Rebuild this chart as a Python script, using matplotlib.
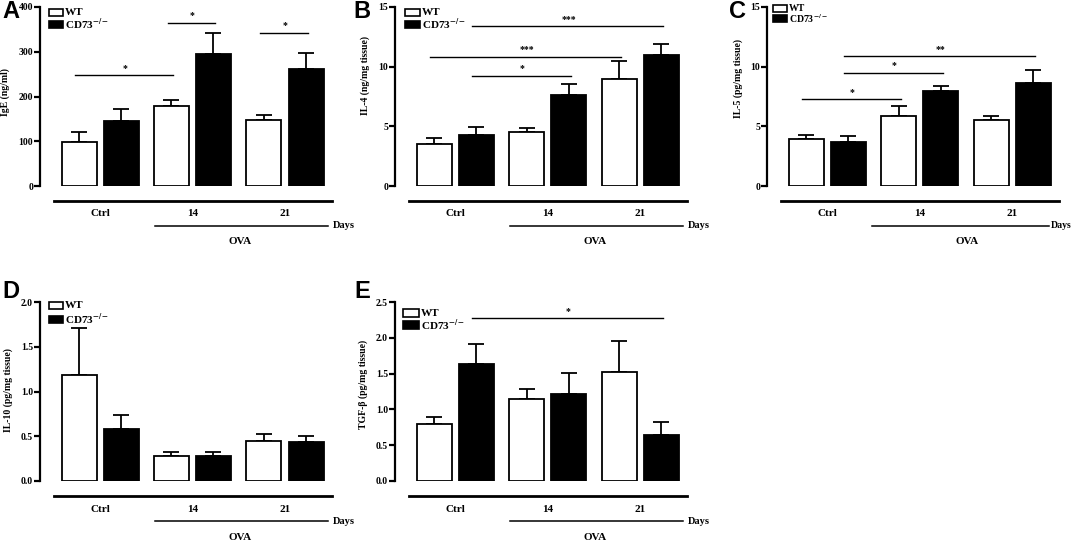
import numpy as np
import matplotlib
matplotlib.use("Agg")
import matplotlib.pyplot as plt
from matplotlib.transforms import Affine2D
from matplotlib.patches import Rectangle
from matplotlib.lines import Line2D

plt.rcParams["font.family"] = ["Liberation Serif", "DejaVu Serif"]
plt.rcParams["font.weight"] = "bold"
plt.rcParams["mathtext.fontset"] = "stix"
plt.rcParams["mathtext.default"] = "bf"

groups = ["Ctrl", "14", "21"]

# panel A - IgE
igE_wt = [98, 178, 147]
igE_wt_err = [22, 15, 12]
igE_ko = [145, 295, 262]
igE_ko_err = [27, 48, 35]

# panel B - IL-4
il4_wt = [3.5, 4.5, 9.0]
il4_wt_err = [0.55, 0.35, 1.5]
il4_ko = [4.25, 7.6, 11.0]
il4_ko_err = [0.7, 0.95, 0.9]

# panel C - IL-5
il5_wt = [3.9, 5.9, 5.5]
il5_wt_err = [0.4, 0.8, 0.4]
il5_ko = [3.7, 8.0, 8.6]
il5_ko_err = [0.5, 0.4, 1.1]

# panel D - IL-10
il10_wt = [1.18, 0.28, 0.45]
il10_wt_err = [0.53, 0.045, 0.07]
il10_ko = [0.58, 0.28, 0.435]
il10_ko_err = [0.16, 0.045, 0.07]

# panel E - TGF-beta
tgf_wt = [0.79, 1.14, 1.52]
tgf_wt_err = [0.11, 0.15, 0.44]
tgf_ko = [1.63, 1.22, 0.64]
tgf_ko_err = [0.29, 0.29, 0.18]

# significance: (bar index a, bar index b, y, label); bar index = group*2 + (0 WT, 1 KO)
sig_a = [(0, 2, 247, "*"), (2, 3, 365, "*"), (4, 5, 343, "*")]
sig_b = [(1, 5, 13.4, "***"), (0, 4, 10.85, "***"), (1, 3, 9.25, "*")]
sig_c = [(0, 2, 7.3, "*"), (1, 3, 9.5, "*"), (1, 5, 10.9, "**")]
sig_d = []
sig_e = [(1, 5, 2.27, "*")]

W, H = 1072, 543
fig = plt.figure(figsize=(W / 100, H / 100), dpi=100)
px = Affine2D().scale(1, -1).translate(0, H)  # figure pixels, origin top-left


def panel(letter, letter_xy, left, zero, top, wt, wt_err, ko, ko_err, ymax, yticks,
          ylabel, sigs, lab_pos, leg, ova=(115, 288), days_x=293, days_fs=7.5):
    axw = 300
    ax = fig.add_axes([left / W, (H - zero) / H, axw / W, (zero - top) / H])
    ax.set_xlim(0, axw)
    ax.set_ylim(0, ymax)
    for s in ("top", "right", "bottom"):
        ax.spines[s].set_visible(False)
    ax.spines["left"].set_linewidth(1.6)
    ax.set_xticks([])
    ax.set_yticks(yticks)
    fmt = "{:.1f}" if isinstance(yticks[1], float) else "{:d}"
    ax.set_yticklabels([fmt.format(t) for t in yticks], fontsize=7, fontweight="bold")
    ax.tick_params(axis="y", length=4, width=1.6, pad=1)
    ax.set_ylabel(ylabel, fontsize=7, fontweight="bold")
    ax.yaxis.set_label_coords(-lab_pos[0] / axw, lab_pos[1])

    centers = 60 + 92.5 * np.arange(len(groups))
    xw = centers - 21
    xk = centers + 21
    ekw = dict(fmt="none", ecolor="black", elinewidth=1.3, capsize=6, capthick=1.3)
    ax.bar(xw, wt, width=35, color="white", edgecolor="black", linewidth=1.3, zorder=2)
    ax.errorbar(xw, wt, yerr=[np.zeros(3), wt_err], zorder=1, **ekw)
    ax.bar(xk, ko, width=35, color="black", edgecolor="black", linewidth=1.3, zorder=2)
    ax.errorbar(xk, ko, yerr=[np.zeros(3), ko_err], zorder=1, **ekw)

    barx = np.ravel(np.column_stack([xw, xk]))
    for a, b, y, lab in sigs:
        ax.plot([barx[a] - 4, barx[b] + 2], [y, y], color="black", lw=1.0, clip_on=False)
        ax.text((barx[a] + barx[b]) / 2, y + ymax * 0.012, lab, ha="center", va="bottom",
                fontsize=7, fontweight="bold")

    # pixel transform: x right of axis, y up from zero line
    tr = Affine2D().translate(left, H - zero)
    fig.add_artist(Line2D([14, 292], [-15, -15], color="black", lw=2.0, transform=tr))
    for c, g in zip(centers, groups):
        fig.text(c, -28, g, transform=tr, ha="center", va="center", fontsize=8,
                 fontweight="bold")
    fig.add_artist(Line2D(list(ova), [-40, -40], color="black", lw=1.1, transform=tr))
    fig.text(days_x, -40, "Days", transform=tr, ha="left", va="center", fontsize=days_fs,
             fontweight="bold")
    fig.text(200, -56, "OVA", transform=tr, ha="center", va="center", fontsize=8,
             fontweight="bold")

    # legend in pixels relative to axis top
    lx, ly1, ly2, bw, bh, fs = leg
    trt = Affine2D().translate(left, H - top)
    fig.add_artist(Rectangle((lx, -ly1 - bh), bw, bh, facecolor="white", edgecolor="black",
                             lw=1.2, transform=trt))
    fig.add_artist(Rectangle((lx, -ly2 - bh), bw, bh, facecolor="black", edgecolor="black",
                             lw=1.2, transform=trt))
    fig.text(lx + bw + 2, -ly1 - bh / 2, "WT", transform=trt, ha="left", va="center",
             fontsize=fs, fontweight="bold")
    fig.text(lx + bw + 2, -ly2 - bh / 2, r"CD73$^{-/-}$", transform=trt, ha="left",
             va="center", fontsize=fs, fontweight="bold")

    # panel letter
    fig.text(letter_xy[0], letter_xy[1], letter, transform=px, fontsize=17,
             fontweight="bold", family=["Liberation Sans", "DejaVu Sans"],
             ha="left", va="center")
    return ax


panel("A", (2, 12), 40, 186, 7, igE_wt, igE_wt_err, igE_ko, igE_ko_err, 400,
      [0, 100, 200, 300, 400], "IgE (ng/ml)", sig_a, (30, 0.525), (9, 2, 14, 14, 7, 8))
panel("B", (353, 12), 395, 186, 7, il4_wt, il4_wt_err, il4_ko, il4_ko_err, 15,
      [0, 5, 10, 15], "IL-4 (ng/mg tissue)", sig_b, (25, 0.62), (10, 2, 14, 15, 7, 8))
panel("C", (729, 11), 767, 186, 7, il5_wt, il5_wt_err, il5_ko, il5_ko_err, 15,
      [0, 5, 10, 15], "IL-5 (pg/mg tissue)", sig_c, (24, 0.60), (6, -2, 8, 14, 7, 7),
      ova=(105, 282), days_x=284, days_fs=7)
panel("D", (2, 292), 40, 481, 302, il10_wt, il10_wt_err, il10_ko, il10_ko_err, 2.0,
      [0.0, 0.5, 1.0, 1.5, 2.0], "IL-10 (pg/mg tissue)", sig_d, (27, 0.51),
      (9, 0, 14, 14, 7, 8))
panel("E", (354, 292), 395, 481, 302, tgf_wt, tgf_wt_err, tgf_ko, tgf_ko_err, 2.5,
      [0.0, 0.5, 1.0, 1.5, 2.0, 2.5], "TGF-β (pg/mg tissue)", sig_e, (27, 0.54),
      (8, 7, 19, 16, 8, 8))

fig.savefig("out.png", dpi=100)
